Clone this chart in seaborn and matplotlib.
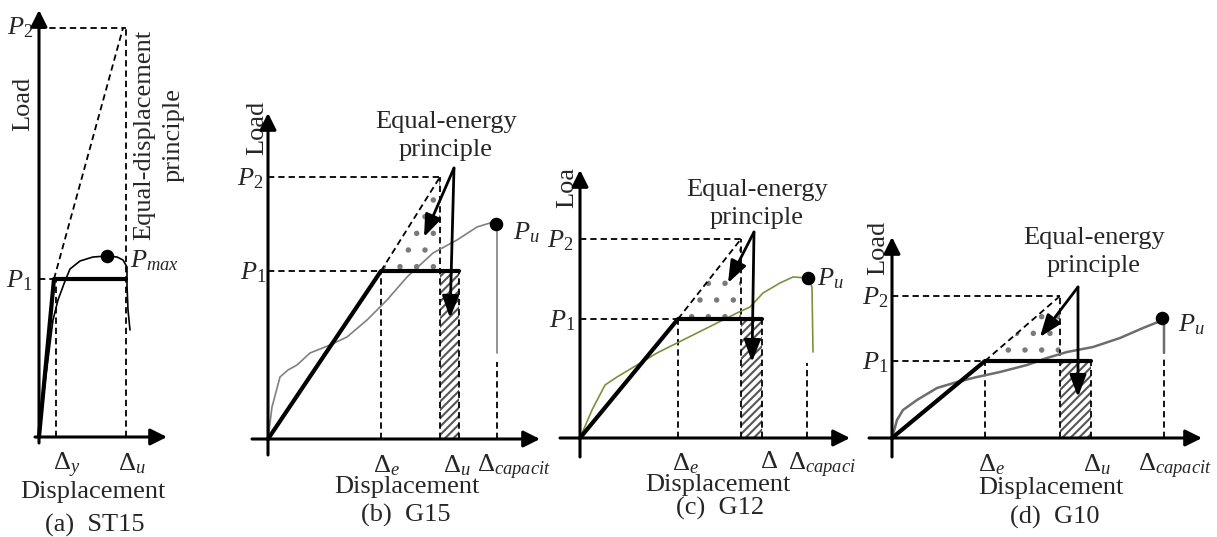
import matplotlib
matplotlib.use("Agg")
import matplotlib.pyplot as plt
import seaborn as sns

sns.set_style("white")
plt.rcParams["font.family"] = ["Liberation Serif", "DejaVu Serif"]
plt.rcParams["mathtext.fontset"] = "custom"
plt.rcParams["mathtext.rm"] = "Liberation Serif"
plt.rcParams["mathtext.it"] = "Liberation Serif:italic"
plt.rcParams["hatch.linewidth"] = 1.5

W, H = 1217, 537
FS = 19

CAPTIONS = ["(a)  ST15", "(b)  G15", "(c)  G12", "(d)  G10"]
Y_LABELS = ["Load", "Load", "Loa", "Load"]

# (a) ST15 - equal-displacement principle
A_CURVE_X = [0, 6, 14, 19, 26, 31, 41, 54, 68, 78, 84, 88, 88, 89, 91]
A_CURVE_Y = [0, 54, 117, 137, 156, 168, 176, 180, 181, 180, 177, 170, 152, 127, 107]
A_YIELD_X = 15
A_DISP = [17, 87]          # Δy, Δu
A_LOAD = [158, 409]        # P1, P2
A_PEAK = [68, 181]         # Pmax

# (b) G15
B_CURVE_X = [0, 4, 12, 20, 29, 42, 62, 79, 99, 119, 139, 165, 189, 209, 222, 228, 229, 229]
B_CURVE_Y = [0, 32, 62, 69, 74, 86, 94, 102, 119, 139, 162, 186, 199, 212, 216, 215, 209, 86]
B_DISP = [113, 172, 191, 229]   # Δe, Δ at P2, Δu, Δcapacity
B_LOAD = [168, 262]
B_PEAK = [228, 215]

# (c) G12
C_CURVE_X = [0, 12, 25, 37, 57, 77, 97, 117, 137, 157, 170, 183, 200, 213, 228, 232, 233]
C_CURVE_Y = [0, 28, 53, 61, 73, 85, 95, 105, 115, 125, 131, 145, 155, 161, 160, 151, 86]
C_DISP = [98, 161, 182, 227]
C_LOAD = [119, 199]
C_PEAK = [228, 160]

# (d) G10
D_CURVE_X = [0, 5, 11, 25, 45, 65, 85, 108, 135, 155, 175, 201, 228, 251, 266, 270, 272, 272]
D_CURVE_Y = [0, 18, 28, 38, 50, 56, 61, 66, 73, 80, 86, 91, 100, 110, 116, 120, 113, 85]
D_DISP = [93, 168, 199, 272]
D_LOAD = [77, 142]
D_PEAK = [270, 120]

CAP_TOP = [77, 75, 80]
CURVE_COLORS = ["black", "#808080", "#77933c", "#6d6d6d"]

# layout (pixels)
ORIGINS = [(39, 437), (268, 439), (580, 438), (892, 438)]
AXIS_X = [(-4, 128), (-16, 272), (-20, 270), (-23, 310)]
AXIS_Y = [(-6, 427), (-16, 326), (-19, 268), (-19, 201)]
ARROW_FROM = [(186, 271), (174, 206), (186, 151)]
ARROW_TIPS = [[(156, 202), (182, 121)], [(148, 155), (172, 76)], [(148, 101), (186, 41)]]

DASH = dict(color="black", lw=1.3, ls=(0, (3.5, 2.2)), zorder=3)
THICK = dict(color="black", lw=3.0, zorder=5)


def panel_axes(fig, origin):
    ox, oy = origin
    ax = fig.add_axes([0, 0, 1, 1])
    ax.set_xlim(-ox, W - ox)
    ax.set_ylim(oy - H, oy)
    ax.axis("off")
    ax.patch.set_alpha(0)
    return ax


def axis_arrows(ax, xr, yr):
    kw = dict(arrowstyle="-|>", lw=2.2, color="black", mutation_scale=25,
              shrinkA=0, shrinkB=0)
    ax.annotate("", xy=(xr[1], 0), xytext=(xr[0], 0), arrowprops=kw, zorder=6)
    ax.annotate("", xy=(0, yr[1]), xytext=(0, yr[0]), arrowprops=kw, zorder=6)


def curve(ax, xs, ys, color, lw):
    sns.lineplot(x=xs, y=ys, sort=False, estimator=None, color=color, lw=lw,
                 ax=ax, zorder=4)


def peak(ax, pt):
    sns.scatterplot(x=[pt[0]], y=[pt[1]], s=95, color="black", linewidth=0,
                    ax=ax, zorder=7)


def energy_panel(ax, xs, ys, disp, load, pk, cap_top, color, lw, a_from, tips):
    de, d2, du, dc = disp
    p1, p2 = load
    ax.fill_between([d2, du], 0, p1, facecolor="white", edgecolor="#555555",
                    hatch="////", linewidth=0, zorder=1)
    ax.fill_between([de, d2], [p1, p1], [p1, p2], facecolor="none",
                    edgecolor="#7a7a7a", hatch=".", linewidth=0, zorder=1)
    ax.plot([0, de], [p1, p1], **DASH)
    ax.plot([0, d2], [p2, p2], **DASH)
    ax.plot([de, de], [0, p1], **DASH)
    ax.plot([d2, d2], [0, p2], **DASH)
    ax.plot([de, d2], [p1, p2], **DASH)
    ax.plot([du, du], [0, p1], **DASH)
    ax.plot([dc, dc], [0, cap_top], **DASH)
    curve(ax, xs, ys, color, lw)
    sns.lineplot(x=[0, de, du], y=[0, p1, p1], sort=False, estimator=None, ax=ax, **THICK)
    peak(ax, pk)
    kw = dict(arrowstyle="-|>,head_length=0.45,head_width=0.17", lw=2,
              color="black", mutation_scale=30, shrinkA=0, shrinkB=0)
    for t in tips:
        ax.annotate("", xy=t, xytext=a_from, arrowprops=kw, zorder=8)


fig = plt.figure(figsize=(W / 100, H / 100), dpi=100)
axes = [panel_axes(fig, o) for o in ORIGINS]

# ---- (a) ST15
ax = axes[0]
p1, p2 = A_LOAD
dy, du = A_DISP
ax.plot([0, A_YIELD_X], [p1, p1], **DASH)
ax.plot([0, du], [p2, p2], **DASH)
ax.plot([dy, dy], [0, p1], **DASH)
ax.plot([du, du], [0, p2], **DASH)
ax.plot([A_YIELD_X, du - 3], [p1, p2], **DASH)
curve(ax, A_CURVE_X, A_CURVE_Y, CURVE_COLORS[0], 1.2)
sns.lineplot(x=[0, A_YIELD_X, du], y=[0, p1, p1], sort=False, estimator=None, ax=ax, **THICK)
peak(ax, A_PEAK)
ax.text(-6, p2, r"$P_\mathit{2}$", fontsize=FS, ha="right", va="center")
ax.text(-7, p1 - 2, r"$P_\mathit{1}$", fontsize=FS, ha="right", va="center")
ax.text(91, 176, r"$P_{max}$", fontsize=FS, ha="left", va="center")
ax.text(-16, 333, Y_LABELS[0], fontsize=FS, rotation=90, ha="center", va="center")
ax.text(120, 302, "Equal-displacement\nprinciple", fontsize=FS, rotation=90,
        ha="center", va="center", multialignment="center", linespacing=1.4)
ax.text(14, -14, r"$\Delta_y$", fontsize=FS, ha="left", va="top")
ax.text(79, -14, r"$\Delta_u$", fontsize=FS, ha="left", va="top")
ax.text(54, -55, "Displacement", fontsize=FS, ha="center", va="center")
ax.text(56, -88, CAPTIONS[0], fontsize=FS, ha="center", va="center")
axis_arrows(ax, AXIS_X[0], AXIS_Y[0])

# ---- (b), (c), (d)
energy = [
    (B_CURVE_X, B_CURVE_Y, B_DISP, B_LOAD, B_PEAK),
    (C_CURVE_X, C_CURVE_Y, C_DISP, C_LOAD, C_PEAK),
    (D_CURVE_X, D_CURVE_Y, D_DISP, D_LOAD, D_PEAK),
]
line_w = [1.2, 1.2, 1.8]
for i, (xs, ys, disp, load, pk) in enumerate(energy):
    energy_panel(axes[i + 1], xs, ys, disp, load, pk, CAP_TOP[i], CURVE_COLORS[i + 1],
                 line_w[i], ARROW_FROM[i], ARROW_TIPS[i])
    axis_arrows(axes[i + 1], AXIS_X[i + 1], AXIS_Y[i + 1])

# label placement for the equal-energy panels
txt = [
    dict(p2x=-5, p1x=-2, yl=(-11, 311), pr=(178, 303), pu=(245, 206), dx=[105, 175, 209], dy=-14,
         disp=(139, -48), cap=(138, -76), dl=[r"$\Delta_e$", r"$\Delta_u$", r"$\Delta_{capacit}$"]),
    dict(p2x=-7, p1x=-5, yl=(-13, 251), pr=(177, 234), pu=(237, 159), dx=[92, 180, 208], dy=-13,
         disp=(138, -47), cap=(140, -70), dl=[r"$\Delta_e$", r"$\Delta$", r"$\Delta_{capaci}$"]),
    dict(p2x=-4, p1x=-4, yl=(-14, 190), pr=(202, 186), pu=(286, 113), dx=[86, 191, 246], dy=-14,
         disp=(159, -50), cap=(163, -79), dl=[r"$\Delta_e$", r"$\Delta_u$", r"$\Delta_{capacit}$"]),
]
loads = [B_LOAD, C_LOAD, D_LOAD]
for i, t in enumerate(txt):
    ax = axes[i + 1]
    p1, p2 = loads[i]
    ax.text(t["p2x"], p2 - 2, r"$P_\mathit{2}$", fontsize=FS, ha="right", va="center")
    ax.text(t["p1x"], p1 - 2, r"$P_\mathit{1}$", fontsize=FS, ha="right", va="center")
    ax.text(*t["yl"], Y_LABELS[i + 1], fontsize=FS, rotation=90, ha="center", va="center")
    ax.text(*t["pr"], "Equal-energy\nprinciple", fontsize=FS, ha="center", va="center",
            multialignment="center", linespacing=1.3)
    ax.text(*t["pu"], r"$P_u$", fontsize=FS, ha="left", va="center")
    for x, lab in zip(t["dx"], t["dl"]):
        ax.text(x, t["dy"], lab, fontsize=FS, ha="left", va="top")
    ax.text(*t["disp"], "Displacement", fontsize=FS, ha="center", va="center")
    ax.text(*t["cap"], CAPTIONS[i + 1], fontsize=FS, ha="center", va="center")

fig.savefig("out.png", dpi=100)
